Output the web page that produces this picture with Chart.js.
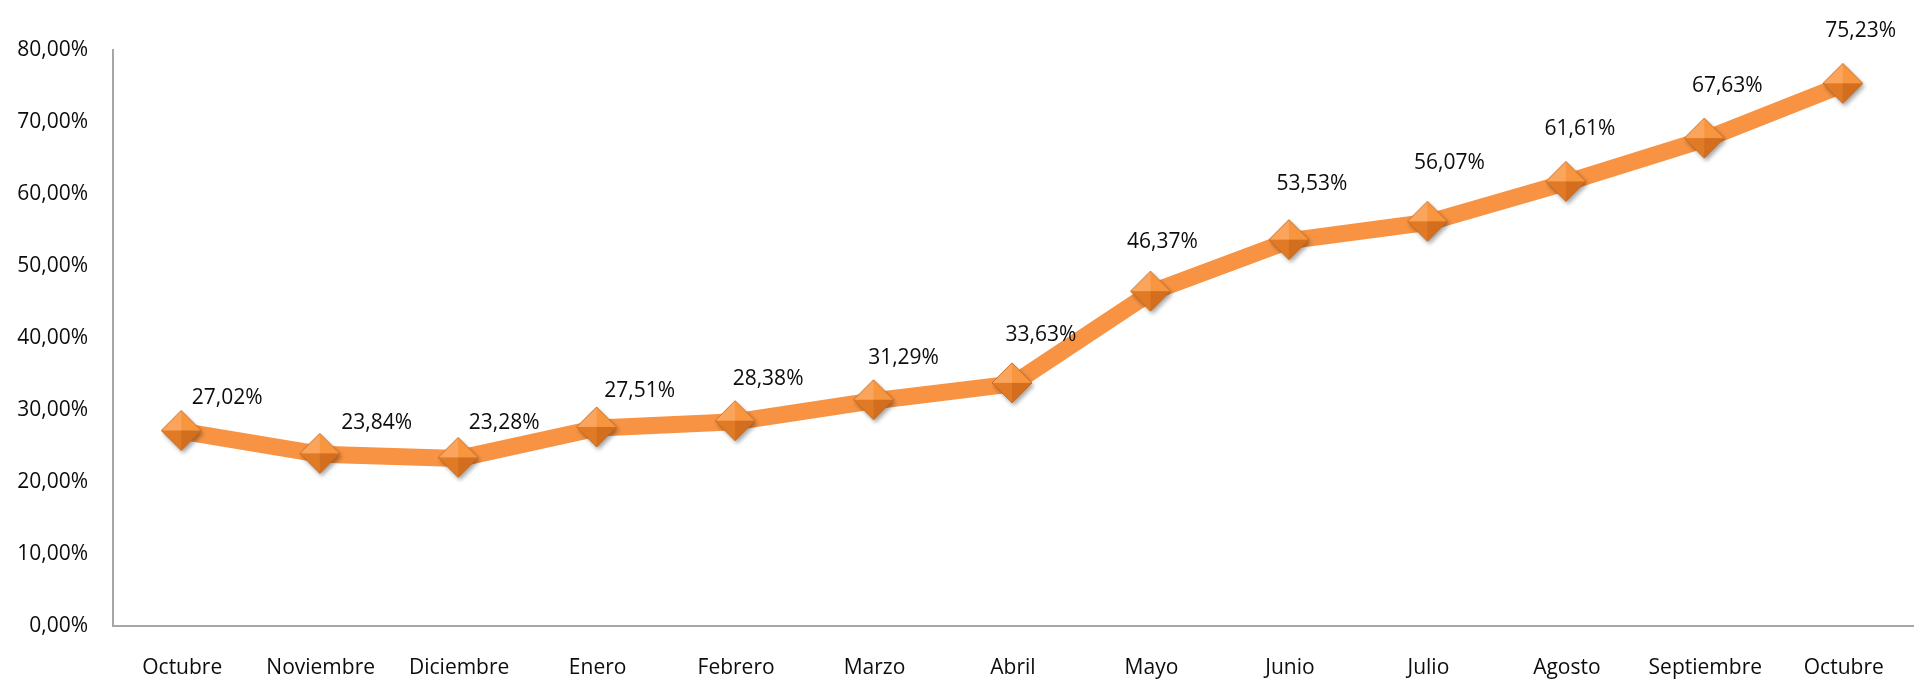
<!DOCTYPE html>
<html>
<head>
<meta charset="utf-8">
<script src="https://cdn.jsdelivr.net/npm/chart.js@4.4.0/dist/chart.umd.min.js"></script>
<style>
  html, body { margin:0; padding:0; background:#fff; overflow:hidden; }
  #wrap { width:1916px; height:683px; }
  canvas { display:block; }
</style>
</head>
<body>
<div id="wrap"><canvas id="c" width="1916" height="683"></canvas></div>
<script>
// data
const months = ['Octubre','Noviembre','Diciembre','Enero','Febrero','Marzo','Abril','Mayo','Junio','Julio','Agosto','Septiembre','Octubre'];
const values = [27.02, 23.84, 23.28, 27.51, 28.38, 31.29, 33.63, 46.37, 53.53, 56.07, 61.61, 67.63, 75.23];
const yTicks = [0, 10, 20, 30, 40, 50, 60, 70, 80];

// label nudges (px), the reference labels were placed by hand
const labelDx = [45, 56, 45, 42, 32, 29, 28, 11, 22, 21, 13, 22, 17];
const labelDy = [-33, -31, -35, -37, -43, -43, -49, -50, -57, -59, -53, -53, -53];

const FONT = '"Open Sans", "Liberation Sans", sans-serif';
const TXT = '#0d0d0d';
const pct = v => v.toFixed(2).replace('.', ',') + '%';

// bevelled diamond marker with a little shadow
function makeDiamond(r){
  const s = r*2 + 12, c = s/2 - 1;
  const cv = document.createElement('canvas');
  cv.width = s; cv.height = s;
  const g = cv.getContext('2d');
  g.save();
  g.shadowColor = 'rgba(0,0,0,0.35)'; g.shadowBlur = 4; g.shadowOffsetX = 2; g.shadowOffsetY = 3;
  g.beginPath(); g.moveTo(c, c-r); g.lineTo(c+r, c); g.lineTo(c, c+r); g.lineTo(c-r, c); g.closePath();
  g.fillStyle = '#E8822C'; g.fill();
  g.restore();
  const tri = (ax,ay,bx,by,col) => { g.beginPath(); g.moveTo(c,c); g.lineTo(ax,ay); g.lineTo(bx,by); g.closePath(); g.fillStyle = col; g.fill(); };
  tri(c-r, c, c, c-r, '#FBA55C');
  tri(c, c-r, c+r, c, '#F7963F');
  tri(c+r, c, c, c+r, '#D26E1E');
  tri(c, c+r, c-r, c, '#E07A25');
  g.beginPath(); g.moveTo(c, c-r); g.lineTo(c+r, c); g.lineTo(c, c+r); g.lineTo(c-r, c); g.closePath();
  g.strokeStyle = 'rgba(190,100,30,0.8)'; g.lineWidth = 1; g.stroke();
  return cv;
}

const valueLabels = {
  id: 'valueLabels',
  afterDatasetsDraw(chart){
    const ctx = chart.ctx;
    const meta = chart.getDatasetMeta(0);
    ctx.save();
    ctx.font = '21px ' + FONT;
    ctx.fillStyle = TXT;
    ctx.textAlign = 'center';
    ctx.textBaseline = 'middle';
    meta.data.forEach((pt, i) => {
      ctx.fillText(pct(values[i]), pt.x + labelDx[i], pt.y + labelDy[i]);
    });
    ctx.restore();
  }
};

new Chart(document.getElementById('c'), {
  type: 'line',
  data: {
    labels: months,
    datasets: [{
      data: values,
      borderColor: '#F79343',
      borderWidth: 17,
      borderJoinStyle: 'round',
      borderCapStyle: 'round',
      tension: 0,
      clip: false,
      pointStyle: makeDiamond(20),
      pointRadius: 20,
      pointHoverRadius: 20
    }]
  },
  options: {
    responsive: false,
    animation: false,
    layout: { autoPadding: false, padding: { top: 50, right: 3, bottom: 3, left: 0 } },
    plugins: { legend: { display: false }, tooltip: { enabled: false } },
    scales: {
      x: {
        offset: true,
        afterFit: s => { s.height = 54; },
        grid: { color: 'transparent', drawTicks: false },
        border: { display: true, color: '#a6a6a6', width: 2 },
        ticks: { color: TXT, font: { family: FONT, size: 21 }, padding: 29, maxRotation: 0, autoSkip: false }
      },
      y: {
        min: 0, max: 80,
        afterFit: s => { s.width = 113; },
        afterBuildTicks: s => { s.ticks = yTicks.map(v => ({ value: v })); },
        grid: { color: 'transparent', drawTicks: false },
        border: { display: true, color: '#a6a6a6', width: 2 },
        ticks: { color: TXT, font: { family: FONT, size: 21 }, padding: 25, callback: v => pct(v) }
      }
    }
  },
  plugins: [valueLabels]
});
</script>
</body>
</html>
